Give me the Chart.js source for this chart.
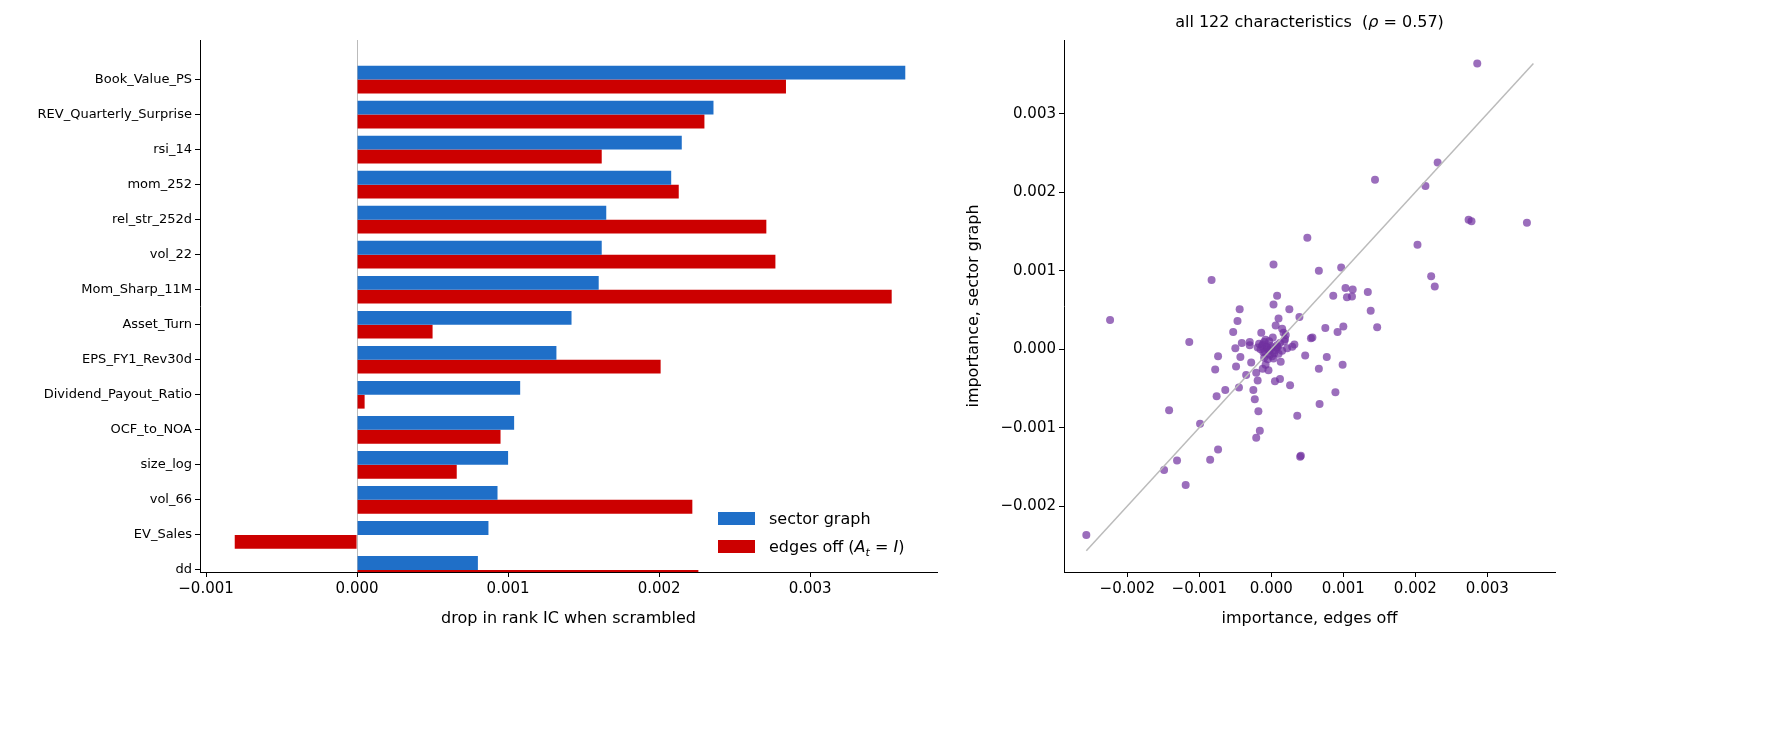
<!DOCTYPE html>
<html><head><meta charset="utf-8">
<script src="https://cdn.jsdelivr.net/npm/chart.js@4"></script>
<style>
body{margin:0;background:#fff;font-family:"DejaVu Sans";}
#c1{position:absolute;left:0;top:0;}
#c2{position:absolute;left:960px;top:0;}
.lg{position:absolute;left:718px;top:505px;font-size:16px;line-height:28px;color:#000}
.lg span.sw{display:inline-block;width:37px;height:13px;vertical-align:-1px;margin-right:14px}
.tt{position:absolute;left:1064px;width:491px;top:12px;text-align:center;font-size:16px}
</style></head><body>
<canvas id="c1" width="945" height="731" style="width:945px;height:731px"></canvas>
<canvas id="c2" width="824" height="731" style="width:824px;height:731px"></canvas>
<div class="lg"><div><span class="sw" style="background:#1f6fc8"></span>sector graph</div>
<div><span class="sw" style="background:#cc0000"></span>edges off (<i>A<sub style="font-size:11px">t</sub></i> = <i>I</i>)</div></div>
<div class="tt">all 122 characteristics&nbsp; (<i>ρ</i> = 0.57)</div>
<script>
const categories=["Book_Value_PS","REV_Quarterly_Surprise","rsi_14","mom_252","rel_str_252d","vol_22","Mom_Sharp_11M","Asset_Turn","EPS_FY1_Rev30d","Dividend_Payout_Ratio","OCF_to_NOA","size_log","vol_66","EV_Sales","dd"];
const sectorGraph=[0.00363,0.00236,0.00215,0.00208,0.00165,0.00162,0.00160,0.00142,0.00132,0.00108,0.00104,0.00100,0.00093,0.00087,0.00080];
const edgesOff=[0.00284,0.00230,0.00162,0.00213,0.00271,0.00277,0.00354,0.00050,0.00201,0.00005,0.00095,0.00066,0.00222,-0.00081,0.00226];
const barTicks=[-0.001,0,0.001,0.002,0.003];
const scatterX=[-0.00257,-0.00224,-0.00149,-0.00142,-0.00131,-0.00119,-0.00114,-0.00099,-0.00083,-0.00085,-0.00074,-0.00076,-0.00074,-0.00078,-0.00064,-0.00053,-0.00047,-0.00050,-0.00044,-0.00045,-0.00043,-0.00049,-0.00041,-0.00035,-0.00030,-0.00030,-0.00028,-0.00025,-0.00021,-0.00023,-0.00021,-0.00019,-0.00018,-0.00016,-0.00014,-0.00013,-0.00010,-0.00012,-0.00008,-0.00005,-0.00002,0.00000,-0.00003,0.00002,0.00003,0.00003,0.00005,0.00006,0.00008,0.00010,0.00012,0.00015,0.00017,0.00019,0.00022,0.00025,0.00026,0.00029,0.00032,0.00036,0.00039,0.00040,0.00041,0.00047,0.00050,0.00055,0.00057,0.00066,0.00066,0.00067,0.00075,0.00077,0.00086,0.00089,0.00092,0.00097,0.00099,0.00100,0.00103,0.00105,0.00112,0.00113,0.00134,0.00138,0.00144,0.00147,0.00203,0.00214,0.00222,0.00227,0.00231,0.00274,0.00278,0.00286,0.00355,-0.00007,0.00004,-0.00010,0.00008,-0.00015,0.00012,-0.00004,0.00015,0.00001,-0.00019,0.00020,-0.00006,-0.00009,0.00007,-0.00012,0.00010,-0.00001,0.00013,-0.00017,0.00003,-0.00008,0.00018,-0.00003,0.00006,-0.00011,0.00009,-0.00005];
const scatterY=[-0.00237,0.00037,-0.00154,-0.00078,-0.00142,-0.00173,0.00009,-0.00095,0.00088,-0.00141,-0.00128,-0.00060,-0.00009,-0.00026,-0.00052,0.00022,0.00036,0.00001,0.00051,-0.00049,-0.00010,-0.00022,0.00008,-0.00033,0.00009,0.00005,-0.00017,-0.00052,-0.00113,-0.00064,-0.00030,-0.00040,-0.00079,-0.00104,0.00021,0.00004,0.00009,-0.00025,-0.00020,-0.00013,-0.00007,0.00001,0.00010,0.00015,0.00057,0.00108,-0.00041,0.00030,0.00068,0.00039,-0.00038,0.00026,0.00021,0.00013,0.00001,0.00051,-0.00046,0.00003,0.00006,-0.00085,0.00041,-0.00137,-0.00136,-0.00008,0.00142,0.00014,0.00015,0.00100,-0.00025,-0.00070,0.00027,-0.00010,0.00068,-0.00055,0.00022,0.00104,-0.00020,0.00029,0.00078,0.00066,0.00067,0.00076,0.00073,0.00049,0.00216,0.00028,0.00133,0.00208,0.00093,0.00080,0.00238,0.00165,0.00163,0.00364,0.00161,0.00003,-0.00005,-0.00011,0.00005,0.00000,0.00008,-0.00027,-0.00002,-0.00009,0.00002,0.00018,0.00002,-0.00003,0.00002,0.00006,-0.00006,0.00004,-0.00016,0.00007,-0.00012,0.00012,0.00010,-0.00002,-0.00001,-0.00004,0.00003,0.00000];
const scatterTicks=[-0.002,-0.001,0,0.001,0.002,0.003];
const diag=[-0.00257,0.00364];

const F="DejaVu Sans";
const fmt=v=>(v<0?"\u2212":"")+Math.abs(v).toFixed(3);
new Chart(document.getElementById('c1'),{
 type:'bar',
 data:{datasets:[
  {label:'sector graph',data:sectorGraph.map((v,i)=>({x:v,y:i})),backgroundColor:'#1f6fc8'},
  {label:'edges off',data:edgesOff.map((v,i)=>({x:v,y:i})),backgroundColor:'#cc0000'}]},
 options:{indexAxis:'y',responsive:false,animation:false,
  categoryPercentage:0.79,barPercentage:1,
  layout:{padding:{top:40,right:8,bottom:99,left:0}},
  plugins:{legend:{display:false},tooltip:{enabled:false}},
  scales:{
   y:{type:'linear',reverse:true,min:-1.13,max:14.06,offset:false,afterFit:s=>{s.width=200;},
     afterBuildTicks:s=>{s.ticks=categories.map((c,i)=>({value:i}));},
     ticks:{color:'#000',font:{family:F,size:13},callback:v=>categories[v]},
     grid:{display:true,offset:false,drawOnChartArea:false,tickLength:5,tickColor:'#000'},border:{color:'#000'}},
   x:{type:'linear',min:-0.00104,max:0.00384,afterFit:s=>{s.height=60;},
     afterBuildTicks:s=>{s.ticks=barTicks.map(v=>({value:v}));},
     ticks:{color:'#000',font:{family:F,size:15},callback:v=>fmt(v)},
     grid:{offset:false,color:c=>c.tick&&Math.abs(c.tick.value)<1e-9?'#bbbbbb':'rgba(0,0,0,0)',tickColor:'#000',tickLength:5},
     border:{color:'#000'},
     title:{display:true,text:'drop in rank IC when scrambled',color:'#000',font:{family:F,size:16}}}
  }}
});
new Chart(document.getElementById('c2'),{
 type:'scatter',
 data:{datasets:[
  {type:'line',data:diag.map(v=>({x:v,y:v})),borderColor:'#bbbbbb',borderWidth:1.5,pointRadius:0},
  {data:scatterX.map((v,i)=>({x:v,y:scatterY[i]})),backgroundColor:'rgba(112,48,160,0.7)',borderWidth:0,pointRadius:4}]},
 options:{responsive:false,animation:false,
  layout:{padding:{top:40,right:229,bottom:99,left:0}},
  plugins:{legend:{display:false},tooltip:{enabled:false}},
  scales:{
   x:{type:'linear',min:-0.00288,max:0.00394,afterFit:s=>{s.height=60;},
     afterBuildTicks:s=>{s.ticks=scatterTicks.map(v=>({value:v}));},
     ticks:{color:'#000',font:{family:F,size:15},callback:v=>fmt(v)},
     grid:{drawOnChartArea:false,tickColor:'#000',tickLength:5},border:{color:'#000'},
     title:{display:true,text:'importance, edges off',color:'#000',font:{family:F,size:16}}},
   y:{type:'linear',min:-0.00284,max:0.00394,afterFit:s=>{s.width=104;},
     afterBuildTicks:s=>{s.ticks=scatterTicks.map(v=>({value:v}));},
     ticks:{color:'#000',font:{family:F,size:15},callback:v=>fmt(v)},
     grid:{drawOnChartArea:false,tickColor:'#000',tickLength:5},border:{color:'#000'},
     title:{display:true,text:'importance, sector graph',color:'#000',font:{family:F,size:16}}}
  }}
});
</script></body></html>
